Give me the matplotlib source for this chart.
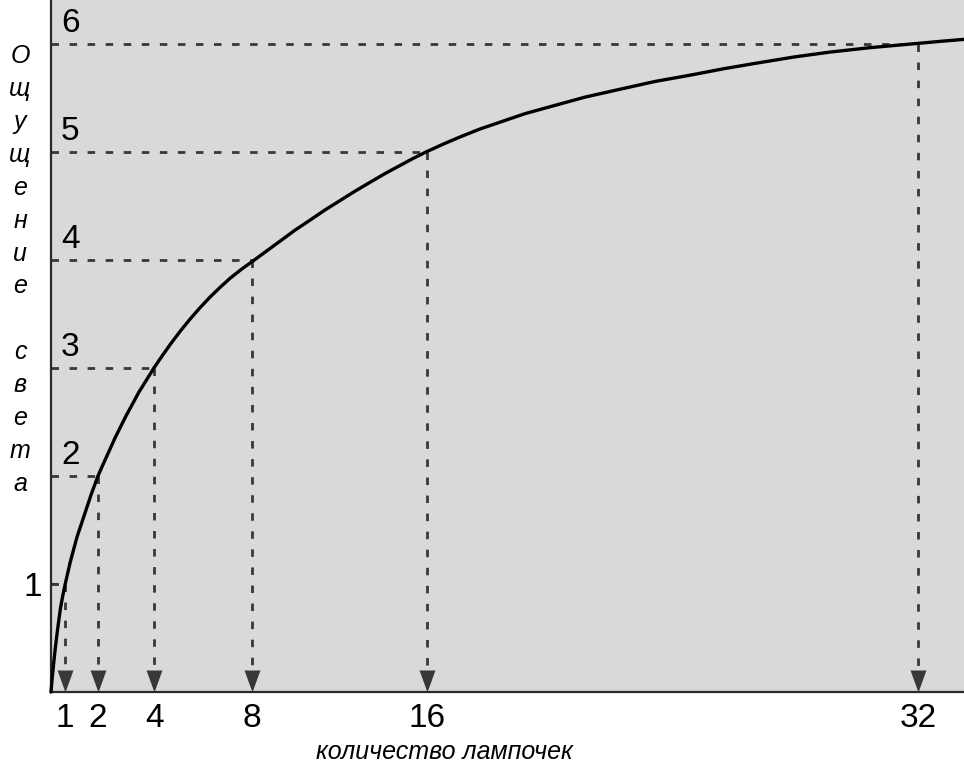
import numpy as np
import matplotlib
matplotlib.use("Agg")
import matplotlib.pyplot as plt

# ---------------- data ----------------
lamps = [1, 2, 4, 8, 16, 32]                 # количество лампочек
sensation = [1, 2, 3, 4, 5, 6]               # ощущение света
x_tick_labels = ["1", "2", "4", "8", "16", "32"]
y_level_labels = ["1", "2", "3", "4", "5", "6"]

# curve (lamps, sensation)
curve_lamps = [0, 0.086, 0.179, 0.3, 0.429, 0.55, 0.679, 0.836,
               1.0, 1.153, 1.260, 1.367, 1.489, 1.612, 1.795,
               2.0, 2.145, 2.293, 2.452, 2.611, 2.806, 3.0, 3.230, 3.459, 3.724,
               4.0, 4.315, 4.643, 5.052, 5.462, 5.871, 6.280, 6.690, 7.099, 7.550,
               8.0, 8.641, 9.282, 9.969, 10.656, 11.343, 12.030, 12.717, 13.404,
               14.091, 14.777, 15.373,
               16.0, 16.531, 17.084, 17.735, 18.386, 19.199, 20.013, 21.152,
               22.291, 23.430, 24.569, 25.709, 26.848, 27.987, 29.126, 30.428,
               32.0, 32.739, 33.487]
curve_sensation = [0, 0.130, 0.25, 0.398, 0.537, 0.657, 0.778, 0.889,
                   0.991, 1.194, 1.315, 1.435, 1.546, 1.657, 1.824,
                   1.994, 2.081, 2.167, 2.259, 2.352, 2.454, 2.556, 2.667, 2.778, 2.889,
                   3.006, 3.110, 3.215, 3.338, 3.452, 3.558, 3.656, 3.746, 3.83, 3.911,
                   3.984, 4.079, 4.174, 4.276, 4.369, 4.463, 4.55, 4.637, 4.719,
                   4.80, 4.875, 4.940,
                   5.003, 5.072, 5.139, 5.213, 5.276, 5.355, 5.419, 5.508,
                   5.581, 5.653, 5.711, 5.773, 5.828, 5.881, 5.925, 5.966,
                   6.006, 6.025, 6.043]

xlabel = "количество лампочек"
ylabel_words = ["Ощущение", "света"]

# hand-drawn (non-uniform) x axis of the illustration
scale_lamps = np.array([0, 1, 2, 4, 8, 16, 32, 40], dtype=float)
scale_pos = np.array([0, 14, 46.7, 103.3, 201, 375.7, 867.3, 1113.1])


def fwd(x):
    return np.interp(np.asarray(x, dtype=float), scale_lamps, scale_pos)


def inv(u):
    return np.interp(np.asarray(u, dtype=float), scale_pos, scale_lamps)


# ---------------- style ----------------
plt.rcParams["font.family"] = ["Liberation Sans", "DejaVu Sans"]
plt.rcParams["lines.scale_dashes"] = False

W, H, DPI = 964, 774, 100
fig = plt.figure(figsize=(W / DPI, H / DPI), dpi=DPI, facecolor="white")
ax = fig.add_axes([51 / W, (H - 692) / H, (W - 51) / W, 692 / H])
ax.set_facecolor("#d9d9d9")

ax.set_xscale("function", functions=(fwd, inv))
ax.set_xlim(0, 33.49)
ax.set_ylim(0, 692 / 108)

for s in ["top", "right"]:
    ax.spines[s].set_visible(False)
for s in ["left", "bottom"]:
    ax.spines[s].set_color("#2a2a2a")
    ax.spines[s].set_linewidth(1.6)

dash_color = "#383838"
dash_kw = dict(color=dash_color, lw=2.0, dashes=(5.4, 7.6), zorder=2)

fig.canvas.draw()
arrow_px = 22
y0_disp = ax.transData.transform((1, 0))[1]
y_arrow_top = ax.transData.inverted().transform((0, y0_disp + arrow_px))[1]

for xv, yv in zip(lamps, sensation):
    ax.plot([0, xv], [yv, yv], **dash_kw)
    ax.plot([xv, xv], [yv, y_arrow_top], **dash_kw)

# arrow heads (tip at the axis)
tri = [(0, 0), (-0.36, 1), (0.36, 1), (0, 0)]
ax.plot(lamps, [0] * len(lamps), linestyle="none", marker=tri,
        markersize=arrow_px * 2 * 72 / DPI, color=dash_color,
        markeredgewidth=0, zorder=4, clip_on=False)

# curve
ax.plot(curve_lamps, curve_sensation, color="black", lw=2.4, zorder=5,
        solid_capstyle="round", solid_joinstyle="round", clip_on=False)

# x ticks
ax.set_xticks(lamps)
ax.set_xticklabels(x_tick_labels)
ax.tick_params(axis="x", length=0, pad=8, labelsize=24)

# y: only "1" as an outside tick label, other levels written inside
ax.set_yticks([sensation[0]])
ax.set_yticklabels([y_level_labels[0]])
ax.tick_params(axis="y", direction="in", length=5, width=1.5, color="#2a2a2a",
               pad=6.5, labelsize=24)
for lab, yv in zip(y_level_labels[1:], sensation[1:]):
    ax.annotate(lab, xy=(0, yv), xytext=(14, 14.5), textcoords="offset points",
                ha="center", va="center", fontsize=24, zorder=6)

# axis titles
fig.text(444 / W, 1 - 752 / H, xlabel, ha="center", va="center",
         fontsize=18, style="italic")
ylabel_stack = "\n\n".join("\n".join(w) for w in ylabel_words)
fig.text(20 / W, 1 - 270 / H, ylabel_stack,
         ha="center", va="center", fontsize=18, style="italic", linespacing=1.47)

fig.savefig("out.png", dpi=DPI, facecolor="white")
